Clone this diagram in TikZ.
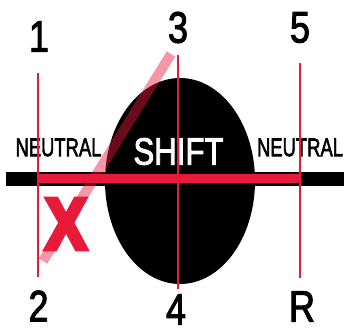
\documentclass[tikz,border=0pt]{standalone}
\usepackage{fontspec}
\setmainfont{Liberation Sans}
\newfontfamily\lblfont{Liberation Sans}[FakeBold=2.5]
\newfontfamily\xfont{Liberation Sans Bold}[FakeBold=7]
\usepackage{graphicx}
\definecolor{lred}{RGB}{232,26,58}
\tikzset{
  lbl/.style={inner sep=0pt, text=black, font=\lblfont\fontsize{44}{44}\selectfont},
  neutral/.style={inner sep=0pt, text=black, font=\lblfont\fontsize{25.6}{26}\selectfont},
  redline/.style={draw=lred, line width=2pt},
}
\newcommand{\cond}[2]{\scalebox{#1}[1]{#2}}
\begin{document}
\begin{tikzpicture}[x=1pt,y=-1pt]
\useasboundingbox (0,0) rectangle (344,329);
\fill[white] (0,0) rectangle (344,329);
% shift gate
\fill[black] (180,181) ellipse [x radius=75, y radius=103];
% horizontal bars
\fill[black] (6,172) rectangle (344,185.5);
\fill[lred] (38,173.5) rectangle (300,182.5);
% pink diagonal
\coordinate (dA) at (43,261);
\coordinate (dB) at (171,54);
\draw[lred, opacity=0.45, line width=10pt] (dA) -- (dB);
% red X
\node[inner sep=0pt, text=lred, font=\xfont\fontsize{72}{72}\selectfont] (x) at (66,224) {\cond{0.85}{X}};
% texts
\node[neutral] (nl) at (58.5,147.5) {\cond{0.72}{NEUTRAL}};
\node[neutral] (nr) at (300,147.5) {\cond{0.72}{NEUTRAL}};
\node[inner sep=0pt, text=white, font=\lblfont\fontsize{38}{38}\selectfont] (shift) at (178.5,151.5) {\cond{0.82}{SHIFT}};
% gate labels
\node[lbl] (g1) at (39,36.5) {\cond{0.82}{1}};
\node[lbl] (g3) at (178,27.5) {\cond{0.82}{3}};
\node[lbl] (g5) at (300,27.5) {\cond{0.82}{5}};
\node[lbl] (g2) at (38.5,306) {\cond{0.82}{2}};
\node[lbl] (g4) at (176,309.5) {\cond{0.82}{4}};
\node[lbl] (gR) at (302,306.5) {\cond{0.82}{R}};
% vertical gate lines
\coordinate (t1) at (38,73);   \coordinate (b1) at (38,277);
\coordinate (t3) at (178,55);  \coordinate (b3) at (178,289);
\coordinate (t5) at (300,63);  \coordinate (b5) at (300,278);
\draw[redline] (t1) -- (b1);
\draw[redline] (t3) -- (b3);
\draw[redline] (t5) -- (b5);
\end{tikzpicture}
\end{document}
